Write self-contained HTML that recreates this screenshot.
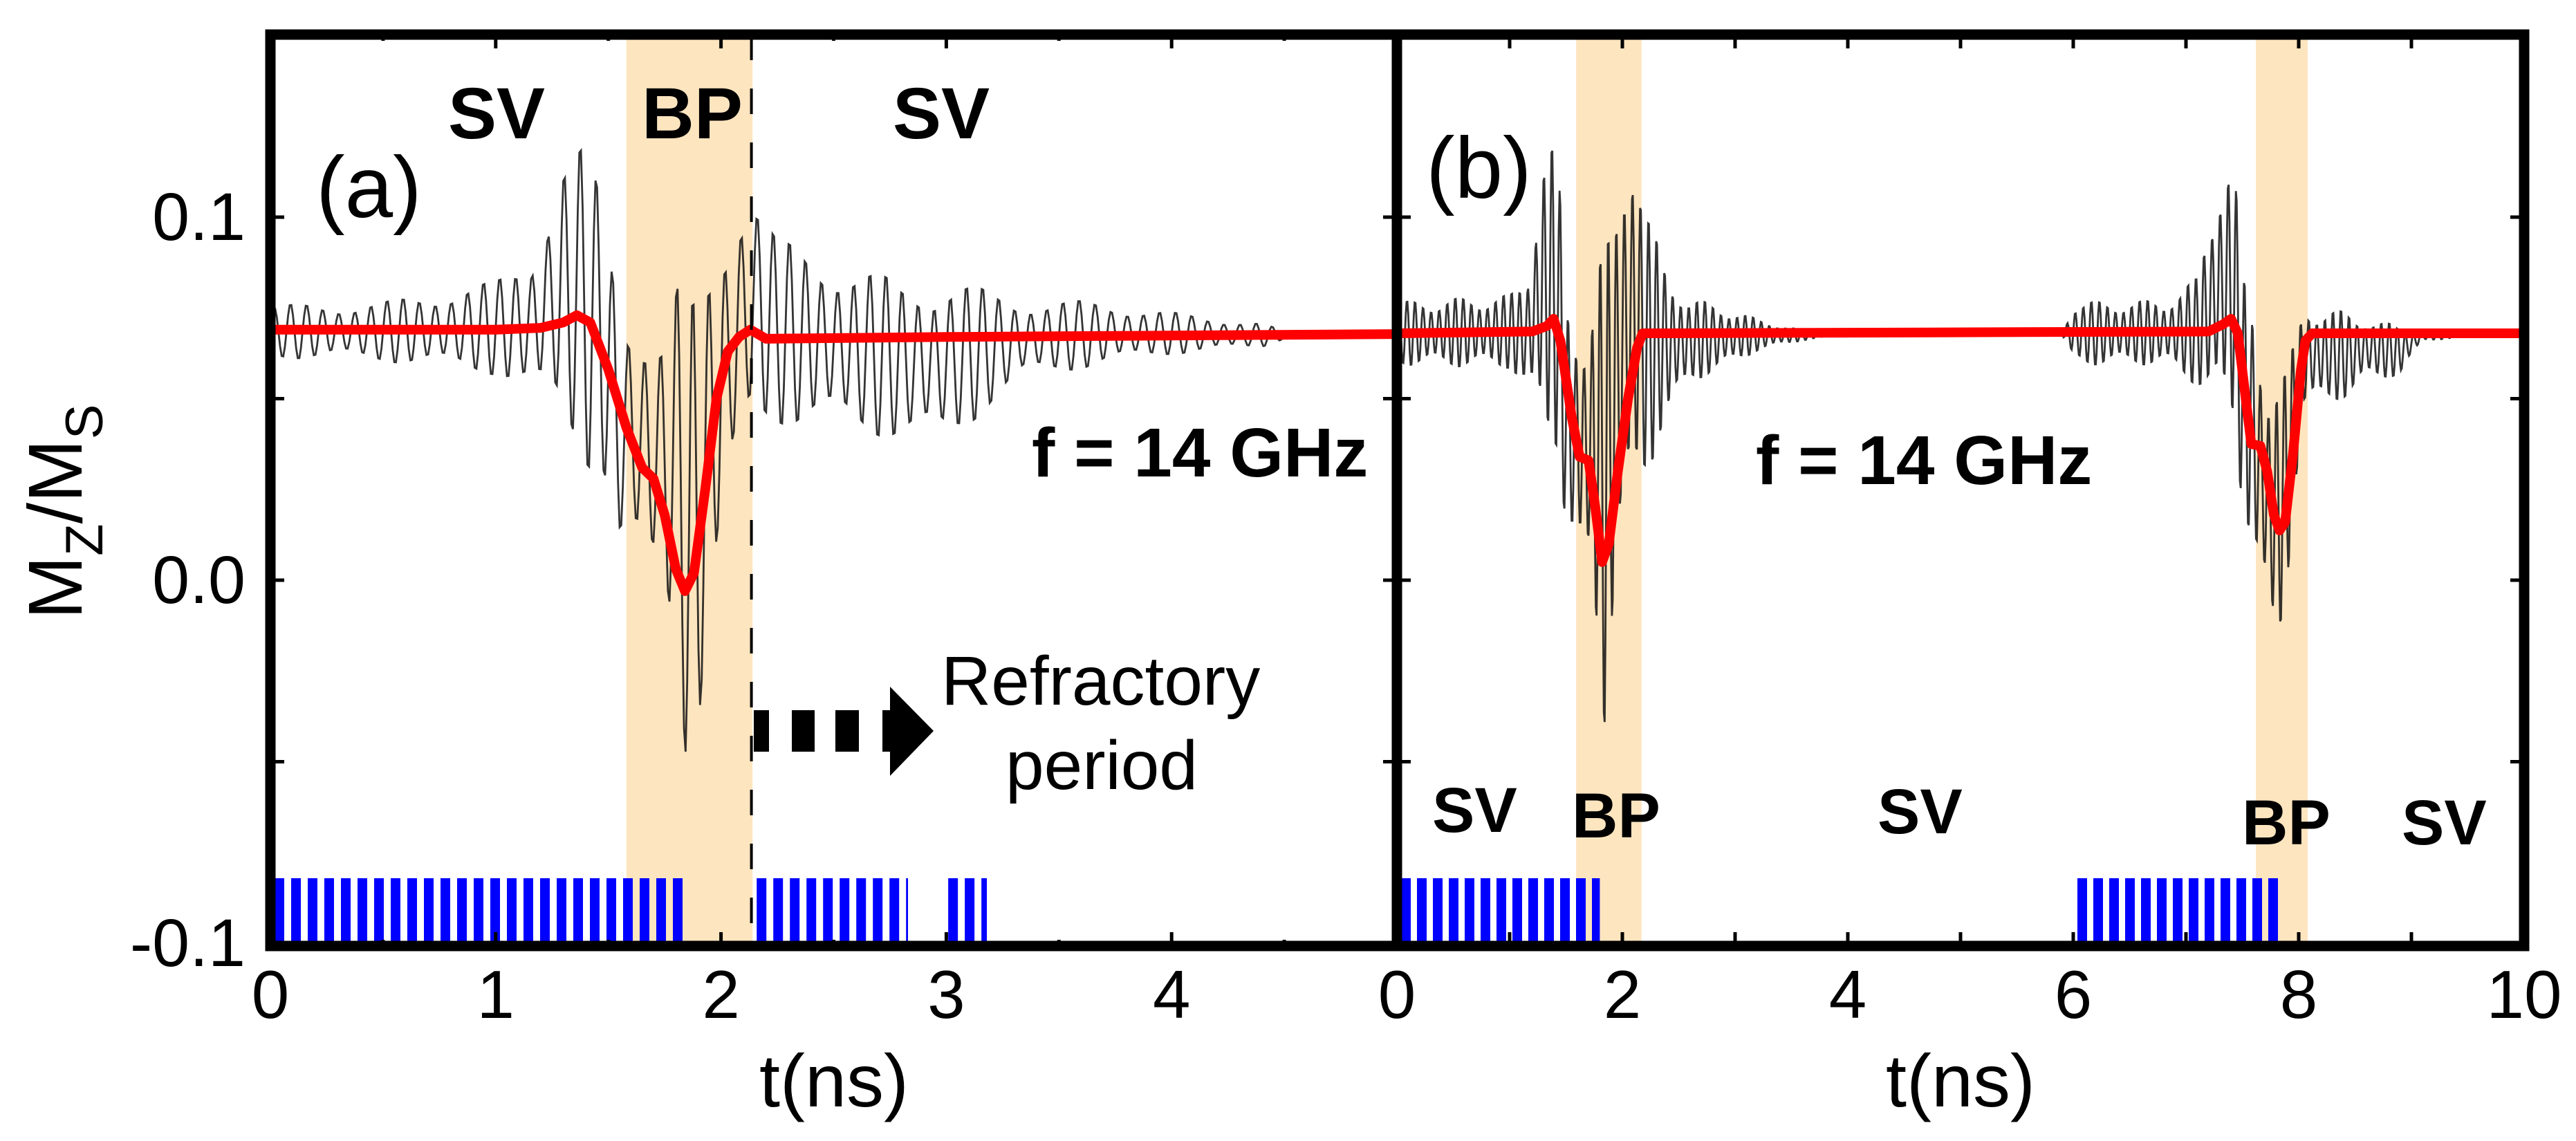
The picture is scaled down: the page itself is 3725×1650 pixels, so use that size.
<!DOCTYPE html>
<html><head><meta charset="utf-8"><style>
html,body{margin:0;padding:0;background:#fff;}
svg{display:block;font-family:"Liberation Sans",Arial,sans-serif;}
</style></head><body>
<svg id="chart" width="3725" height="1650" viewBox="0 0 3725 1650" xmlns="http://www.w3.org/2000/svg">
<g id="bg"></g>
<g id="traces"></g>
<g id="frame"></g>
<g id="labels">
<text x="118" y="740" font-size="110" text-anchor="middle" transform="rotate(-90 118 740)">M<tspan font-size="76" dy="30">Z</tspan><tspan dy="-30">/M</tspan><tspan font-size="76" dy="30">S</tspan></text>
<text x="457" y="314" font-size="125">(a)</text>
<text x="2062" y="286" font-size="125">(b)</text>
<text x="648" y="200" font-size="105" font-weight="bold">SV</text>
<text x="928" y="200" font-size="105" font-weight="bold">BP</text>
<text x="1291" y="200" font-size="105" font-weight="bold">SV</text>
<text x="1492" y="689" font-size="100" font-weight="bold">f = 14 GHz</text>
<text x="2539" y="700" font-size="100" font-weight="bold">f = 14 GHz</text>
<text x="1361" y="1019" font-size="100">Refractory</text>
<text x="1454" y="1141" font-size="100">period</text>
<text x="2071" y="1203" font-size="92" font-weight="bold">SV</text>
<text x="2273" y="1211" font-size="92" font-weight="bold">BP</text>
<text x="2715" y="1205" font-size="92" font-weight="bold">SV</text>
<text x="3242" y="1221" font-size="92" font-weight="bold">BP</text>
<text x="3473" y="1221" font-size="92" font-weight="bold">SV</text>
<text x="1206" y="1600" font-size="108" text-anchor="middle">t(ns)</text>
<text x="2835" y="1600" font-size="108" text-anchor="middle">t(ns)</text>
<g fill="#000">
<rect x="1090" y="1027" width="22" height="60"/><rect x="1145" y="1027" width="33" height="60"/><rect x="1208" y="1027" width="34" height="60"/><rect x="1276" y="1027" width="12" height="60"/>
<polygon points="1287,993 1350,1057 1287,1122"/>
</g>
</g>
</svg>
<script>
// ---- data ----
const yTicks = [-0.1, 0.0, 0.1];
const yTickLabels = ["-0.1", "0.0", "0.1"];
const xTicksA = [0, 1, 2, 3, 4];
const xTickLabelsA = ["0", "1", "2", "3", "4"];
const xTicksB = [0, 2, 4, 6, 8, 10];
const xTickLabelsB = ["0", "2", "4", "6", "8", "10"];
const bandsA = [[1.58, 2.14]];
const bandsB = [[1.59, 2.17], [7.62, 8.08]];
const pulsesA = [[0, 1.85], [2.14, 2.83], [2.99, 3.18]];
const pulsesB = [[0, 1.8], [6.0, 7.85]];
const dashedLineA = 2.135;
const carrierGHz = 14;
// panel a envelope of black trace
const envTA = [0, 0.5, 1.0, 1.15, 1.3, 1.4, 1.48, 1.55, 1.65, 1.75, 1.82, 1.87, 1.92, 2.0, 2.08, 2.14, 2.25, 2.5, 2.8, 3.0, 3.2, 3.35, 3.7, 4.0, 4.4, 4.5, 5.0];
const envUpA = [0.076, 0.077, 0.083, 0.090, 0.120, 0.122, 0.105, 0.082, 0.076, 0.070, 0.088, 0.080, 0.085, 0.100, 0.110, 0.112, 0.095, 0.090, 0.083, 0.085, 0.080, 0.078, 0.077, 0.074, 0.071, 0.0685, 0.068];
const envLoA = [0.061, 0.060, 0.056, 0.050, 0.040, 0.030, 0.025, 0.002, 0.000, -0.005, -0.030, -0.075, -0.030, 0.005, 0.030, 0.040, 0.042, 0.040, 0.038, 0.035, 0.048, 0.055, 0.059, 0.062, 0.064, 0.0665, 0.067];
// panel a red average
const redTA = [0, 1.0, 1.2, 1.3, 1.36, 1.42, 1.5, 1.58, 1.65, 1.70, 1.75, 1.8, 1.84, 1.88, 1.93, 1.98, 2.03, 2.08, 2.13, 2.2, 3.0, 5.0];
const redVA = [0.069, 0.069, 0.0695, 0.071, 0.073, 0.071, 0.058, 0.042, 0.031, 0.028, 0.018, 0.003, -0.003, 0.002, 0.025, 0.050, 0.063, 0.067, 0.069, 0.0665, 0.067, 0.0678];
// panel b envelope
const envTB = [0, 1.0, 1.15, 1.3, 1.42, 1.5, 1.6, 1.7, 1.78, 1.85, 1.92, 2.0, 2.1, 2.2, 2.35, 2.6, 2.9, 3.2, 3.6, 4.0, 5.9, 6.0, 6.8, 7.1, 7.3, 7.42, 7.5, 7.6, 7.7, 7.8, 7.88, 7.95, 8.05, 8.2, 8.45, 8.6, 8.9, 9.1, 9.6, 10];
const envUpB = [0.077, 0.079, 0.085, 0.120, 0.122, 0.080, 0.075, 0.072, 0.090, 0.095, 0.100, 0.120, 0.131, 0.105, 0.090, 0.078, 0.076, 0.072, 0.069, 0.0685, 0.0685, 0.077, 0.0775, 0.084, 0.115, 0.122, 0.085, 0.075, 0.060, 0.062, 0.060, 0.065, 0.077, 0.076, 0.074, 0.073, 0.070, 0.069, 0.0685, 0.0685];
const envLoB = [0.059, 0.058, 0.050, 0.040, 0.035, 0.010, 0.000, 0.000, -0.020, -0.045, -0.010, 0.010, 0.014, 0.025, 0.040, 0.054, 0.058, 0.063, 0.066, 0.0675, 0.0675, 0.059, 0.059, 0.053, 0.045, 0.040, 0.020, 0.005, -0.010, -0.028, -0.010, 0.020, 0.046, 0.048, 0.050, 0.055, 0.056, 0.066, 0.067, 0.0675];
const redTB = [0, 1.2, 1.33, 1.39, 1.45, 1.55, 1.62, 1.70, 1.76, 1.82, 1.88, 1.96, 2.05, 2.13, 2.18, 2.3, 7.2, 7.33, 7.40, 7.46, 7.53, 7.58, 7.66, 7.72, 7.78, 7.83, 7.88, 7.95, 8.02, 8.06, 8.12, 10];
const redVB = [0.068, 0.0685, 0.070, 0.072, 0.066, 0.045, 0.034, 0.033, 0.020, 0.005, 0.010, 0.030, 0.050, 0.064, 0.068, 0.068, 0.0685, 0.0705, 0.072, 0.068, 0.050, 0.0375, 0.037, 0.030, 0.018, 0.0137, 0.016, 0.035, 0.058, 0.066, 0.068, 0.068];

// ---- layout ----
const SVGNS = "http://www.w3.org/2000/svg";
const plotTop = 50, plotBot = 1368;
const yMin = -0.1, yMax = 0.15;
const yS = v => 839 - v * 5250;
const panelA = {x0: 391, x1: 2020, tMax: 5};
const panelB = {x0: 2020, x1: 3650, tMax: 10};
const xS = (p, t) => p.x0 + t / p.tMax * (p.x1 - p.x0);
function mk(tag, attrs, parent) {
  const e = document.createElementNS(SVGNS, tag);
  for (const k in attrs) e.setAttribute(k, attrs[k]);
  parent.appendChild(e);
  return e;
}
function interp(ts, vs, t) {
  if (t <= ts[0]) return vs[0];
  for (let i = 1; i < ts.length; i++) if (t <= ts[i]) {
    const f = (t - ts[i-1]) / (ts[i] - ts[i-1]);
    return vs[i-1] + f * (vs[i] - vs[i-1]);
  }
  return vs[vs.length - 1];
}
const bgLayer = document.getElementById('bg');
const trLayer = document.getElementById('traces');
const frLayer = document.getElementById('frame');

function drawPanel(p, bands, pulses, envT, envU, envL, redT, redV, period, xt, xtl, name) {
  bands.forEach((b, i) => {
    const r = mk('rect', {x: xS(p, b[0]), y: plotTop, width: xS(p, b[1]) - xS(p, b[0]), height: plotBot - plotTop, fill: '#fde5bf'}, bgLayer);
    
    
  });
  pulses.forEach((pl, i) => {
    const g = mk('g', {fill: '#0000ff'}, bgLayer);
    
    
    const xa = xS(p, pl[0]) + 6, xb = xS(p, pl[1]);
    for (let x = xa; x < xb; x += period) {
      mk('rect', {x: x, y: 1270, width: Math.min(14, xb - x), height: plotBot - 1270}, g);
    }
  });
  let d = '';
  const t0 = envT[0], t1 = envT[envT.length - 1];
  const dt = 1 / (carrierGHz * 10);
  for (let t = t0; t <= t1 + 1e-9; t += dt) {
    const u = interp(envT, envU, t), l = interp(envT, envL, t);
    const beat = 0.8 + 0.2 * Math.sin(2 * Math.PI * 2.3 * t);
    const v = (u + l) / 2 + (u - l) / 2 * beat * Math.sin(2 * Math.PI * carrierGHz * t);
    d += (d ? 'L' : 'M') + xS(p, t).toFixed(1) + ',' + yS(v).toFixed(1);
  }
  const bl = mk('path', {d: d, fill: 'none', stroke: '#111', 'stroke-width': 2.8, 'stroke-opacity': 0.85}, trLayer);
  
  
  let rd = '';
  redT.forEach((t, i) => { rd += (i ? 'L' : 'M') + xS(p, t).toFixed(1) + ',' + yS(redV[i]).toFixed(1); });
  const rl = mk('path', {d: rd, fill: 'none', stroke: '#ff0000', 'stroke-width': 14, 'stroke-linejoin': 'round', 'stroke-linecap': 'round'}, trLayer);
  
  
  const tg = mk('g', {stroke: '#000', 'stroke-width': 5}, frLayer);
  
  
  const step = p.tMax / 10;
  for (let k = 0; k <= 10; k++) {
    const t = k * step, x = xS(p, t);
    const major = (k % 2 === 0) || p.tMax === 10;
    const len = major ? 20 : 9;
    mk('line', {x1: x, y1: plotBot, x2: x, y2: plotBot - len}, tg);
    mk('line', {x1: x, y1: plotTop, x2: x, y2: plotTop + len}, tg);
  }
  for (let v = yMin; v <= yMax + 1e-9; v += 0.05) {
    const y = yS(v);
    mk('line', {x1: p.x0, y1: y, x2: p.x0 + 20, y2: y}, tg);
    mk('line', {x1: p.x1, y1: y, x2: p.x1 - 20, y2: y}, tg);
  }
  const lg = mk('g', {'font-size': 98, 'text-anchor': 'middle'}, frLayer);
  
  
  xt.forEach((t, i) => {
    const tx = mk('text', {x: xS(p, t), y: 1472}, lg);
    tx.textContent = xtl[i];
  });
  const box = mk('rect', {x: p.x0, y: plotTop, width: p.x1 - p.x0, height: plotBot - plotTop, fill: 'none', stroke: '#000', 'stroke-width': 15}, frLayer);
  
  
}
drawPanel(panelA, bandsA, pulsesA, envTA, envUpA, envLoA, redTA, redVA, 24, xTicksA, xTickLabelsA, 'panel-a');
drawPanel(panelB, bandsB, pulsesB, envTB, envUpB, envLoB, redTB, redVB, 23, xTicksB, xTickLabelsB, 'panel-b');
const dl = mk('line', {x1: xS(panelA, dashedLineA), y1: plotTop, x2: xS(panelA, dashedLineA), y2: plotBot, stroke: '#000', 'stroke-width': 4, 'stroke-dasharray': '37 41'}, trLayer);


const yg = mk('g', {'font-size': 97, 'text-anchor': 'end'}, frLayer);


yTicks.forEach((v, i) => {
  const tx = mk('text', {x: 355, y: yS(v) + 33}, yg);
  tx.textContent = yTickLabels[i];
});
</script>
</body></html>
